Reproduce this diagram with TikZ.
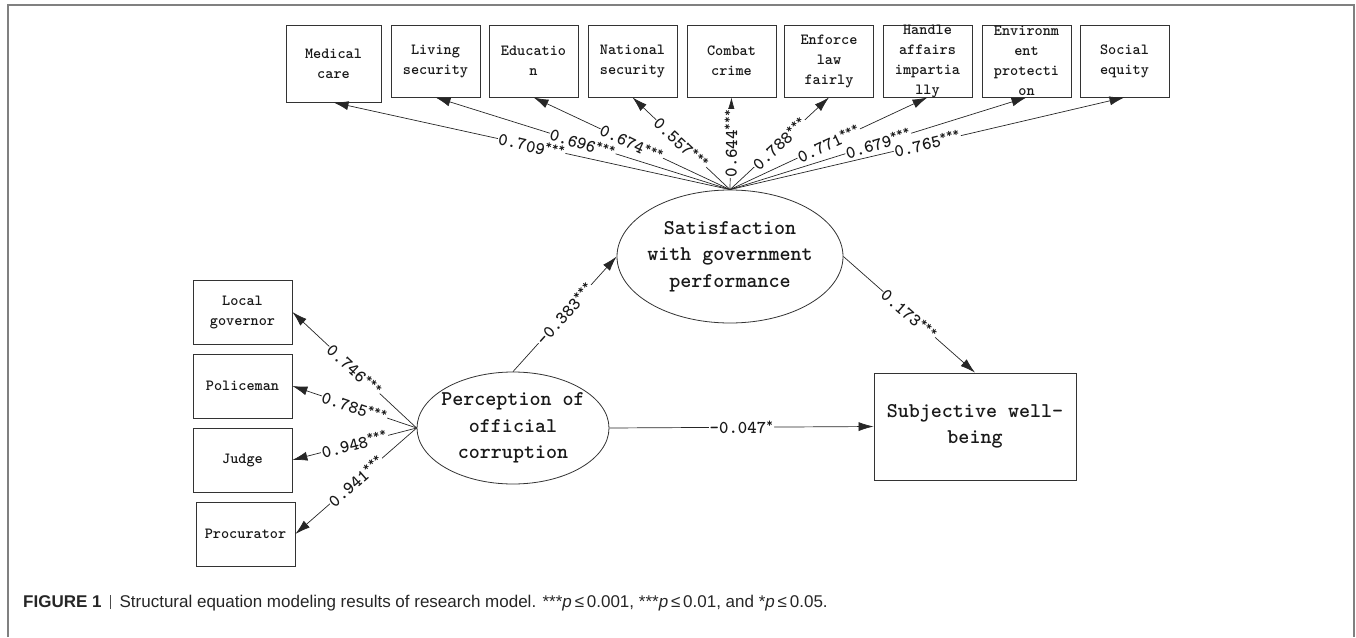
\documentclass[tikz,border=0pt]{standalone}
\usepackage{fontspec}
\setmainfont{Liberation Sans}
\usetikzlibrary{shapes.geometric,arrows.meta}
\definecolor{framegray}{gray}{0.5}
\newcommand\mystar[1]{\textsuperscript{#1}}
\begin{document}
\begin{tikzpicture}[x=1pt,y=-1pt,
  obs/.style={draw=black!80, line width=0.8pt, rectangle, inner sep=0pt, minimum width=89pt, minimum height=72pt},
  lobs/.style={obs, minimum width=99pt, minimum height=64pt},
  lat/.style={draw=black!80, line width=0.8pt, ellipse, inner sep=0pt},
  boxtxt/.style={align=center, inner sep=0pt, text=black!90, font=\ttfamily\bfseries\fontsize{15.5}{20}\selectfont},
  bigtxt/.style={align=center, inner sep=0pt, text=black!90, font=\ttfamily\bfseries\fontsize{21}{26.5}\selectfont},
  conn/.style={draw=black!85, line width=0.7pt, -{Latex[length=15pt,width=9pt]}},
  coef/.style={midway, sloped, fill=white, inner sep=0.6pt, text=black!90, font=\ttfamily\bfseries\fontsize{18}{18}\selectfont}
]
\useasboundingbox (0,0) rectangle (1356,637);
% frame
\draw[framegray, line width=1.2pt] (8,637) -- (8,5) -- (1354,5) -- (1354,637);

% top indicator boxes
\node[obs, minimum width=95pt, minimum height=77pt] (med) at (333.5,63.5) {};
\node[boxtxt] (medT) at (med) {Medical\\care};
\node[obs] (liv) at (435.5,61) {};
\node[boxtxt] (livT) at (liv) {Living\\security};
\node[obs] (edu) at (533.5,61) {};
\node[boxtxt] (eduT) at (edu) {Educatio\\n};
\node[obs] (nat) at (632.5,61) {};
\node[boxtxt] (natT) at (nat) {National\\security};
\node[obs] (com) at (731.5,61) {};
\node[boxtxt] (comT) at (com) {Combat\\crime};
\node[obs] (enf) at (829,61) {};
\node[boxtxt] (enfT) at (enf) {Enforce\\law\\fairly};
\node[obs] (han) at (927.5,61) {};
\node[boxtxt] (hanT) at (han) {Handle\\affairs\\impartia\\lly};
\node[obs] (env) at (1026.5,61) {};
\node[boxtxt] (envT) at (env) {Environm\\ent\\protecti\\on};
\node[obs] (soc) at (1124.5,61) {};
\node[boxtxt] (socT) at (soc) {Social\\equity};

% left indicator boxes
\node[lobs] (loc) at (242.5,312) {};
\node[boxtxt] (locT) at (loc) {Local\\governor};
\node[lobs] (pol) at (242.5,386) {};
\node[boxtxt] (polT) at (pol) {Policeman};
\node[lobs] (jud) at (242.5,460) {};
\node[boxtxt] (judT) at (jud) {Judge};
\node[lobs] (pro) at (245.5,534) {};
\node[boxtxt] (proT) at (pro) {Procurator};

% latent variables
\node[lat, minimum width=226pt, minimum height=133pt] (sat) at (730,256.5) {};
\node[bigtxt] (satT) at (sat) {Satisfaction\\with government\\performance};
\node[lat, minimum width=192pt, minimum height=112pt] (per) at (513,428) {};
\node[bigtxt] (perT) at (per) {Perception of\\official\\corruption};
\node[obs, minimum width=202pt, minimum height=107pt] (swb) at (975,426.5) {};
\node[bigtxt] (swbT) at (swb) {Subjective well-\\being};

% loadings of satisfaction
\draw[conn] (sat.north) -- node[coef]{0.709\mystar{***}} (med.south);
\draw[conn] (sat.north) -- node[coef]{0.696\mystar{***}} (liv.south);
\draw[conn] (sat.north) -- node[coef]{0.674\mystar{***}} (edu.south);
\draw[conn] (sat.north) -- node[coef]{0.557\mystar{***}} (nat.south);
\draw[conn] (sat.north) -- node[coef]{0.644\mystar{***}} (com.south);
\draw[conn] (sat.north) -- node[coef]{0.788\mystar{***}} (enf.south);
\draw[conn] (sat.north) -- node[coef]{0.771\mystar{***}} (han.south);
\draw[conn] (sat.north) -- node[coef]{0.679\mystar{***}} (env.south);
\draw[conn] (sat.north) -- node[coef]{0.765\mystar{***}} (soc.south);

% loadings of perception
\draw[conn] (per.west) -- node[coef]{0.746\mystar{***}} (loc.east);
\draw[conn] (per.west) -- node[coef]{0.785\mystar{***}} (pol.east);
\draw[conn] (per.west) -- node[coef]{0.948\mystar{***}} (jud.east);
\draw[conn] (per.west) -- node[coef]{0.941\mystar{***}} (pro.east);

% structural paths
\draw[conn] (per.north) -- node[coef]{-0.383\mystar{***}} (sat.west);
\draw[conn] (sat.east) -- node[coef]{0.173\mystar{***}} (swb.north);
\draw[conn] (per.east) -- node[coef]{-0.047\mystar{*}} (swb.west);

% caption
\node[anchor=base west, inner sep=0pt, font=\fontsize{17}{20}\selectfont, text=black!85] (cap) at (23,607)
  {\textbf{FIGURE 1}\hspace{0.5em}{\color{black!70}\rule[-2pt]{1pt}{14pt}}\hspace{0.5em}Structural equation modeling results of research model. ***\textit{p}\,≤\,0.001, ***\textit{p}\,≤\,0.01, and *\textit{p}\,≤\,0.05.};
\end{tikzpicture}
\end{document}
